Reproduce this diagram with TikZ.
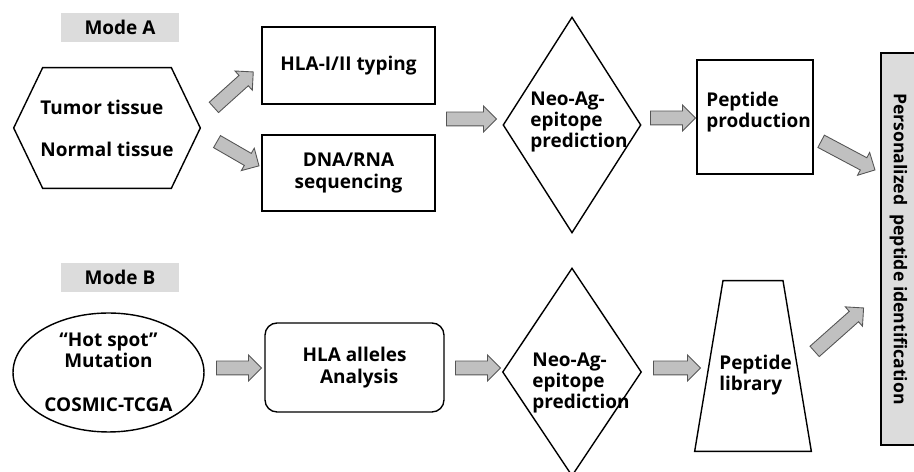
\documentclass[tikz,border=0pt]{standalone}
\usepackage{fontspec}
\setmainfont{Open Sans}
\usepackage{tikz}
\usetikzlibrary{shapes,arrows,positioning,calc}
\definecolor{pgray}{RGB}{220,220,220}
\definecolor{agray}{RGB}{192,192,192}
\definecolor{adark}{RGB}{85,85,85}
\tikzstyle{txt} = [font=\fontsize{10.8}{12.2}\selectfont\bfseries, inner sep=0pt]
\tikzstyle{box} = [rectangle, draw=black, line width=0.8pt, txt, align=center]
\tikzstyle{modebox} = [rectangle, fill=pgray, minimum width=2.36cm, minimum height=0.58cm, txt]
\tikzstyle{decision} = [diamond, draw=black, line width=0.8pt, inner sep=0pt]
\tikzstyle{fatarrow} = [single arrow, draw=adark, fill=agray, line width=0.5pt, inner xsep=0pt, inner ysep=0.13cm, single arrow head extend=0.12cm, single arrow head indent=0pt]

\begin{document}
\begin{tikzpicture}[x=0.02cm, y=-0.02cm]
\useasboundingbox (0,0) rectangle (914,472);
% Mode A
\node (modeA) [modebox] at (120,27.5) {Mode A};
\node (tissue) [txt, align=left, minimum width=3.72cm, minimum height=2.4cm] at (107,128) {Tumor tissue\\[0.41cm]Normal tissue};
\draw[line width=0.8pt] (tissue.west) -- ($(tissue.north west)+(29,0)$) -- ($(tissue.north east)+(-29,0)$) -- (tissue.east) -- ($(tissue.south east)+(-29,0)$) -- ($(tissue.south west)+(29,0)$) -- cycle;
\node (typing) [box, minimum width=3.46cm, minimum height=1.54cm] at (348.5,65.5) {HLA-I/II typing};
\node (seq) [box, minimum width=3.46cm, minimum height=1.52cm] at (348.5,173) {DNA/RNA\\sequencing};
\node (predA) [decision, minimum width=2.76cm, minimum height=4.32cm] at (572,125) {};
\node (predAtext) [txt, align=left, anchor=west] at (530,122) {Neo-Ag-\\epitope\\prediction};
\node (prod) [box, minimum width=2.32cm, minimum height=2.28cm] at (755,117) {};
\node (prodtext) [txt, align=left, anchor=west] at (706,112) {Peptide\\production};
\node (ident) [box, fill=pgray, rotate=-90, minimum width=7.84cm, minimum height=0.7cm, font=\fontsize{10}{12}\selectfont\bfseries] at (898.5,249) {Personalized\ \ peptide\ identification};

% Mode B
\node (modeB) [modebox] at (120,277.5) {Mode B};
\node (hot) [ellipse, draw=black, line width=0.8pt, txt, align=center, minimum width=3.82cm, minimum height=2.38cm] at (108.5,372.5) {“Hot spot”\\Mutation\\[0.45cm]COSMIC-TCGA};
\node (alleles) [box, rounded corners=0.24cm, minimum width=3.58cm, minimum height=1.78cm] at (354.5,367.5) {HLA alleles\\\hspace*{0.5em}Analysis};
\node (predB) [decision, minimum width=2.78cm, minimum height=4.16cm] at (572,372) {};
\node (predBtext) [txt, align=left, anchor=west] at (532,383) {Neo-Ag-\\epitope\\prediction};
\node (lib) [minimum width=2.32cm, minimum height=3.4cm] at (753,366) {};
\draw[line width=0.8pt] ($(lib.north)+(-30,0)$) -- ($(lib.north)+(30,0)$) -- (lib.south east) -- (lib.south west) -- cycle;
\node (libtext) [txt, align=left, anchor=west] at (719,375) {Peptide\\library};

% Arrows
\node (tissue2typing) [fatarrow, minimum height=1.06cm, rotate=42] at (231,92) {};
\node (tissue2seq) [fatarrow, minimum height=0.97cm, rotate=-30] at (235,152) {};
\node (seq2predA) [fatarrow, minimum height=1.0cm] at (468,119) {};
\node (predA2prod) [fatarrow, minimum height=0.9cm] at (669.5,118) {};
\node (prod2ident) [fatarrow, minimum height=1.22cm, rotate=-28] at (845,154) {};
\node (hot2alleles) [fatarrow, minimum height=0.9cm] at (235.5,368) {};
\node (alleles2predB) [fatarrow, minimum height=0.9cm] at (474.5,368) {};
\node (predB2lib) [fatarrow, minimum height=0.94cm] at (673.5,368) {};
\node (lib2ident) [fatarrow, minimum height=1.31cm, rotate=41.6] at (836.5,332) {};
\end{tikzpicture}
\end{document}
